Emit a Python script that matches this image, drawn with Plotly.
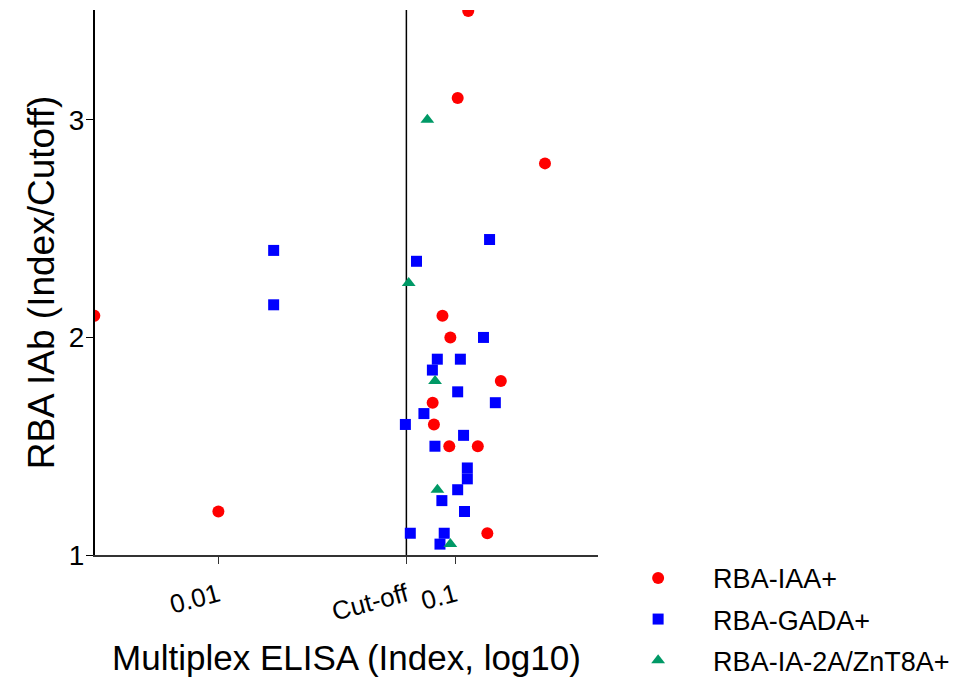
import plotly.graph_objects as go

# RBA-IAA+ (red circles)
iaa_x = [0.113, 0.102, 0.238, 0.003, 0.010, 0.088, 0.095, 0.155, 0.080, 0.081, 0.094, 0.124, 0.136]
iaa_y = [3.50, 3.10, 2.80, 2.10, 1.20, 2.10, 2.00, 1.80, 1.70, 1.60, 1.50, 1.50, 1.10]

# RBA-GADA+ (blue squares)
gada_x = [0.0171, 0.0171, 0.139, 0.0684, 0.131, 0.0837, 0.1047, 0.0798, 0.102, 0.147, 0.0735,
          0.0614, 0.108, 0.0818, 0.112, 0.112, 0.102, 0.0875, 0.109, 0.0644, 0.0895, 0.0859]
gada_y = [2.40, 2.15, 2.45, 2.35, 2.00, 1.90, 1.90, 1.85, 1.75, 1.70, 1.65,
          1.60, 1.55, 1.50, 1.40, 1.35, 1.30, 1.25, 1.20, 1.10, 1.10, 1.05]

# RBA-IA-2A/ZnT8A+ (green triangles)
ia2_x = [0.076, 0.0634, 0.0819, 0.0838, 0.095]
ia2_y = [3.00, 2.25, 1.80, 1.30, 1.05]

cutoff = 0.062
x_tickvals = [0.01, cutoff, 0.1]
x_ticktext = ["0.01", "Cut-off", "0.1"]
y_tickvals = [1, 2, 3]

series_names = ["RBA-IAA+", "RBA-GADA+", "RBA-IA-2A/ZnT8A+"]

FONT = "Liberation Sans, Arial, sans-serif"
PAD = "\u00a0\u00a0"

fig = go.Figure()
fig.add_trace(go.Scatter(x=iaa_x, y=iaa_y, mode="markers", name=PAD + series_names[0],
                         legendgroup="a",
                         marker=dict(symbol="circle", size=12, color="#FF0000")))
fig.add_trace(go.Scatter(x=gada_x, y=gada_y, mode="markers", name=PAD + series_names[1],
                         legendgroup="b",
                         marker=dict(symbol="square", size=11, color="#0000FF")))
fig.add_trace(go.Scatter(x=ia2_x, y=ia2_y, mode="markers", name=PAD + series_names[2],
                         legendgroup="c",
                         marker=dict(symbol="triangle-up", size=12, color="#009966")))

fig.add_shape(type="line", xref="x", yref="paper", x0=cutoff, x1=cutoff, y0=0, y1=1,
              line=dict(color="black", width=1.5), layer="below")

fig.update_layout(
    width=967, height=672,
    margin=dict(l=87, r=377, t=2, b=125, autoexpand=False),
    paper_bgcolor="white", plot_bgcolor="white",
    font=dict(family=FONT, color="black", size=22),
    showlegend=True,
    legend=dict(x=1.04, y=0.002, xanchor="left", yanchor="top",
                font=dict(size=27, family=FONT), itemwidth=70,
                tracegroupgap=3, bgcolor="rgba(0,0,0,0)"),
    xaxis=dict(type="log", range=[-2.52, -0.40], showgrid=False, zeroline=False,
               showline=True, linecolor="#333333", linewidth=2,
               ticks="outside", ticklen=7, tickcolor="#333333",
               tickvals=x_tickvals, ticktext=x_ticktext, tickangle=-15,
               tickfont=dict(size=26), ticklabelstandoff=6,
               title=dict(text="Multiplex ELISA (Index, log10)", font=dict(size=35), standoff=20)),
    yaxis=dict(range=[1, 3.505], showgrid=False, zeroline=False,
               showline=True, linecolor="black", linewidth=2,
               ticks="outside", ticklen=7, tickcolor="black",
               tickvals=y_tickvals, tickfont=dict(size=28), ticklabelstandoff=-4,
               title=dict(text="RBA IAb (Index/Cutoff)", font=dict(size=37), standoff=3)),
)

fig.write_html("out.html")
